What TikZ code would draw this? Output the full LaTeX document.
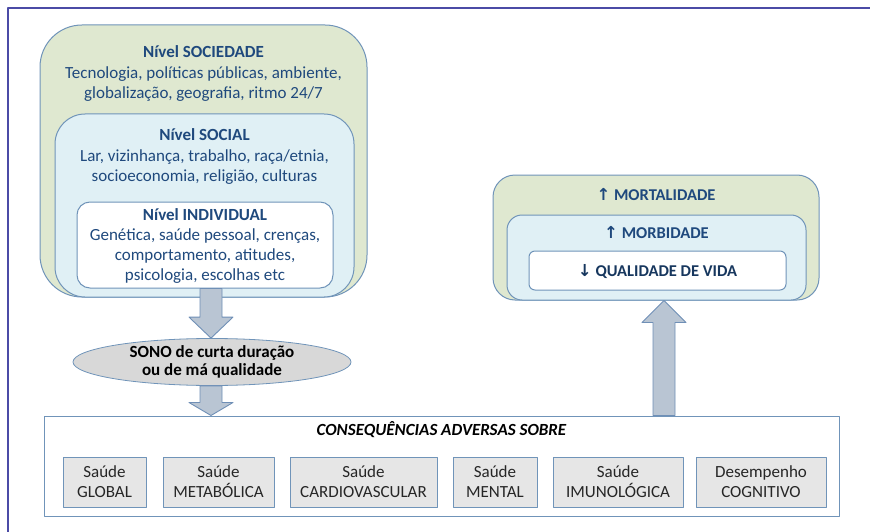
\documentclass[tikz,border=0pt]{standalone}
\usepackage{fontspec}
\setmainfont{Carlito}
\newfontfamily\setafont{DejaVu Sans}
\usetikzlibrary{shapes.geometric,calc}
\definecolor{moldura}{HTML}{4B4BA6}
\definecolor{borda}{HTML}{7094B9}
\definecolor{verde}{HTML}{DFE8D0}
\definecolor{azulclaro}{HTML}{E0F0F5}
\definecolor{azultexto}{HTML}{1F497D}
\definecolor{azulescuro}{HTML}{17375E}
\definecolor{setafill}{HTML}{B9C5D3}
\definecolor{setaborda}{HTML}{6F8FB6}
\definecolor{cinza}{HTML}{E6E6E6}
\definecolor{sonofill}{HTML}{D8D8D8}
% seta larga: [comprimento da ponta]{inicio}{fim}
\newcommand{\setalarga}[3][21pt]{%
	\coordinate (sb) at ($(#3)!#1!(#2)$);
	\draw[setabloco] ($(#2)!11pt!90:(#3)$) -- ($(sb)!11pt!90:(#3)$) -- ($(sb)!22pt!90:(#3)$) -- (#3)
	-- ($(sb)!22pt!-90:(#3)$) -- ($(sb)!11pt!-90:(#3)$) -- ($(#2)!11pt!-90:(#3)$) -- cycle;}
\begin{document}
\begin{tikzpicture}[x=1pt,y=-1pt, font=\fontsize{17}{20.5}\selectfont, line join=round,
	caixa/.style={draw=borda, line width=1pt, inner sep=0pt},
	texto/.style={align=center, inner sep=0pt, text=azultexto},
	setabloco/.style={fill=setafill, draw=setaborda, line width=0.9pt},
	saude/.style={draw=borda, fill=cinza, line width=0.9pt, align=center, minimum height=50pt, inner sep=0pt, text=black!85, font=\fontsize{17}{20}\selectfont}]
	\useasboundingbox (0,0) rectangle (870,532);
	\draw[moldura, line width=2.5pt] (8,532) -- (8,8) -- (870,8);
	
	% Níveis (base = última linha)
	\node[caixa, fill=verde, rounded corners=42pt, minimum width=327pt, minimum height=272pt] (sociedade) at (203.5,161) {};
	\node[caixa, fill=azulclaro, rounded corners=30pt, minimum width=299pt, minimum height=183pt] (social) at (204.5,205.5) {};
	\node[caixa, fill=white, rounded corners=13pt, minimum width=256pt, minimum height=86pt] (individual) at (205,245) {};
	\node[texto, anchor=base] (tsociedade) at (sociedade.north |- 0,99) {\textbf{Nível SOCIEDADE}\\Tecnologia, políticas públicas, ambiente,\\globalização, geografia, ritmo 24/7};
	\node[texto, anchor=base] (tsocial) at (social.north |- 0,182) {\textbf{Nível SOCIAL}\\Lar, vizinhança, trabalho, raça/etnia,\\socioeconomia, religião, culturas};
	\node[texto, anchor=base, font=\fontsize{17}{20}\selectfont] (tindividual) at (individual.north |- 0,280) {\textbf{Nível INDIVIDUAL}\\Genética, saúde pessoal, crenças,\\comportamento, atitudes,\\psicologia, escolhas etc};
	
	% Sono
	\node[ellipse, draw=borda, fill=sonofill, line width=0.8pt, minimum width=278pt, minimum height=47pt, inner sep=0pt, align=center, font=\fontsize{17}{18.5}\selectfont\bfseries] (sono) at (212,362) {SONO de curta duração\\ou de má qualidade};
	
	% Consequências
	\node[caixa, fill=white, minimum width=795pt, minimum height=100pt] (consequencias) at (441.5,466) {};
	\node[anchor=base, inner sep=0pt, font=\fontsize{17}{20}\selectfont\bfseries\itshape] (tcons) at (consequencias.north |- 0,435) {CONSEQUÊNCIAS ADVERSAS SOBRE};
	\foreach \cx/\larg/\nome/\rotulo in {104.5/83/global/{Saúde\\GLOBAL}, 218.5/111/metabolica/{Saúde\\METABÓLICA},
		363.5/147/cardio/{Saúde\\CARDIOVASCULAR}, 495/84/mental/{Saúde\\MENTAL},
		618/130/imuno/{Saúde\\IMUNOLÓGICA}, 761/130/cognitivo/{Desempenho\\COGNITIVO}}
	\node[saude, minimum width=\larg pt] (\nome) at (\cx,482) {\rotulo};
	
	% Desfechos
	\node[caixa, fill=verde, rounded corners=22pt, minimum width=326pt, minimum height=125pt] (mortalidade) at (656,237.5) {};
	\node[caixa, fill=azulclaro, rounded corners=15pt, minimum width=299pt, minimum height=85pt] (morbidade) at (656.5,257.5) {};
	\node[caixa, fill=white, rounded corners=6pt, minimum width=257pt, minimum height=39pt] (qualidade) at (657.5,270.5) {};
	\node[texto, anchor=base, font=\fontsize{16.5}{20}\selectfont\bfseries] (tmort) at (mortalidade.north |- 0,200.5) {{\setafont↑} MORTALIDADE};
	\node[texto, anchor=base, font=\fontsize{16.5}{20}\selectfont\bfseries] (tmorb) at (morbidade.north |- 0,238.5) {{\setafont↑} MORBIDADE};
	\node[texto, anchor=base, text=azulescuro, font=\fontsize{16.5}{20}\selectfont\bfseries] (tqual) at (qualidade.north |- 0,276) {{\setafont↓} QUALIDADE DE VIDA};
	
	% Setas
	\coordinate (s1) at (individual.south -| 211,0);
	\coordinate (s1f) at (sono.north -| 211,0);
	\setalarga{s1}{s1f}
	\coordinate (s2) at (sono.south -| 211,0);
	\coordinate (s2f) at (consequencias.north -| 211,0);
	\setalarga[13pt]{s2}{s2f}
	\coordinate (s3) at (consequencias.north -| 664,0);
	\coordinate (s3f) at (mortalidade.south -| 664,0);
	\setalarga[22pt]{s3}{s3f}
\end{tikzpicture}
\end{document}
